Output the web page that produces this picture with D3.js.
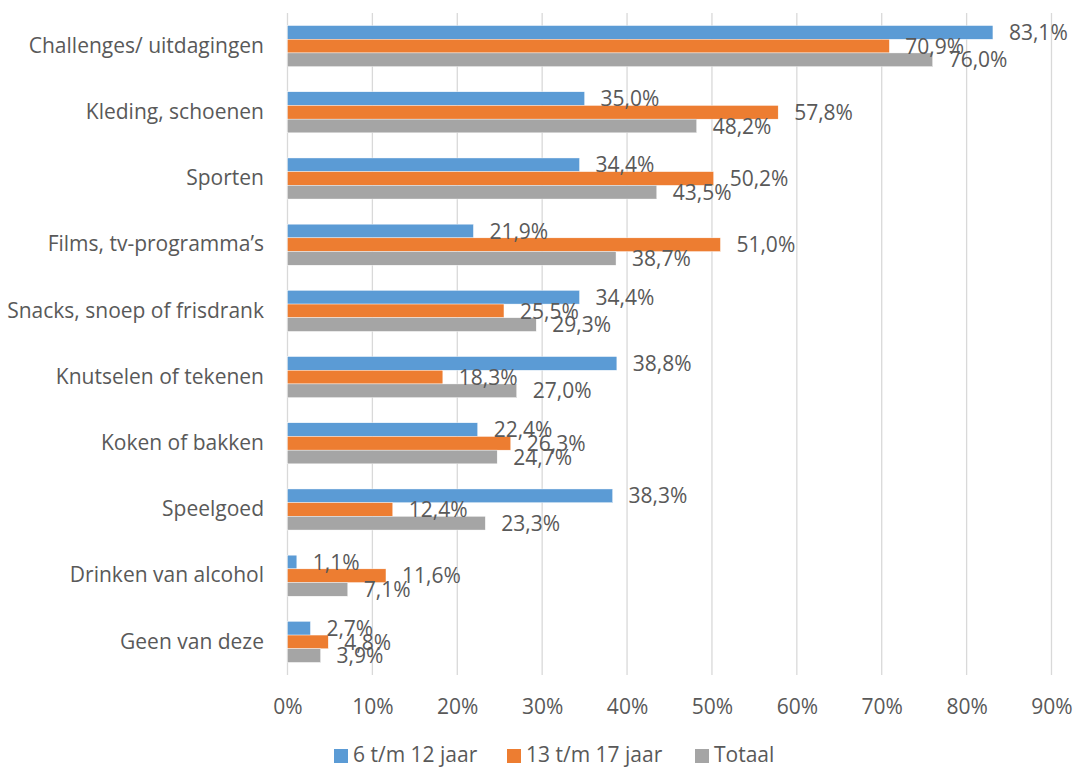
<!DOCTYPE html>
<html>
<head>
<meta charset="utf-8">
<script src="https://cdn.jsdelivr.net/npm/d3@7"></script>
<style>
  body { margin: 0; background: #fff; }
  text { font-family: "Open Sans", sans-serif; fill: #595959; }
</style>
</head>
<body>
<svg id="chart" width="1080" height="769"></svg>
<script>
var categories = ["Challenges/ uitdagingen", "Kleding, schoenen", "Sporten", "Films, tv-programma\u2019s",
  "Snacks, snoep of frisdrank", "Knutselen of tekenen", "Koken of bakken", "Speelgoed",
  "Drinken van alcohol", "Geen van deze"]
var seriesNames = ["6 t/m 12 jaar", "13 t/m 17 jaar", "Totaal"]
var kids = [83.1, 35.0, 34.4, 21.9, 34.4, 38.8, 22.4, 38.3, 1.1, 2.7]
var teens = [70.9, 57.8, 50.2, 51.0, 25.5, 18.3, 26.3, 12.4, 11.6, 4.8]
var totaal = [76.0, 48.2, 43.5, 38.7, 29.3, 27.0, 24.7, 23.3, 7.1, 3.9]
var ticks = [0, 10, 20, 30, 40, 50, 60, 70, 80, 90]
var colors = ["#5B9BD5", "#ED7D31", "#A5A5A5"]

var dd = { width: 1080, height: 769, margin: { top: 13, bottom: 94, left: 287.5, right: 28.5 } }
var fontSize = "21px"

var svg = d3.select("#chart")

var xScale = d3.scaleLinear().domain([0, 90]).range([dd.margin.left, dd.width - dd.margin.right])
var yScale = d3.scaleBand().domain(categories)
  .range([dd.margin.top, dd.height - dd.margin.bottom])
  .paddingInner(0.38).paddingOuter(0.19)
var ySub = d3.scaleBand().domain(seriesNames).range([0, yScale.bandwidth()])

var rows = categories.map(function(c, i) {
  return { cat: c, vals: [kids[i], teens[i], totaal[i]] }
})

// gridlines
svg.append("g").selectAll("line")
  .data(ticks)
  .enter().append("line")
  .attr("x1", function(d) { return xScale(d) }).attr("x2", function(d) { return xScale(d) })
  .attr("y1", dd.margin.top).attr("y2", dd.height - dd.margin.bottom)
  .attr("stroke", "#d9d9d9").attr("stroke-width", 1.3)

// x tick labels
var xAxis = d3.axisBottom(xScale).tickValues(ticks).tickSize(0).tickPadding(0)
  .tickFormat(function(d) { return d + "%" })
svg.append("g")
  .attr("transform", "translate(0," + 714 + ")")
  .call(xAxis)
  .call(function(g) { g.select(".domain").remove() })
  .selectAll("text")
  .attr("dy", 0)
  .style("font-size", fontSize)
  .style("fill", "#595959")
  .style("font-family", "'Open Sans', sans-serif")

// category labels
svg.append("g").selectAll("text")
  .data(categories)
  .enter().append("text")
  .attr("x", 264)
  .attr("y", function(d) { return yScale(d) + yScale.bandwidth() / 2 + 1 })
  .attr("text-anchor", "end")
  .attr("dominant-baseline", "middle")
  .style("font-size", fontSize)
  .text(function(d) { return d })

var groups = svg.append("g").selectAll("g")
  .data(rows)
  .enter().append("g")
  .attr("transform", function(d) { return "translate(0," + yScale(d.cat) + ")" })

groups.selectAll("rect")
  .data(function(d) { return d.vals })
  .enter().append("rect")
  .attr("x", xScale(0))
  .attr("y", function(d, i) { return ySub(seriesNames[i]) })
  .attr("width", function(d) { return xScale(d) - xScale(0) })
  .attr("height", ySub.bandwidth())
  .attr("fill", function(d, i) { return colors[i] })
  .attr("stroke", "#fff").attr("stroke-width", 0.4)

// data labels, placed like Excel's outside-end labels (they overlap there too)
groups.selectAll("text")
  .data(function(d) { return d.vals })
  .enter().append("text")
  .attr("x", function(d) { return xScale(d) + 16 })
  .attr("y", function(d, i) { return ySub(seriesNames[i]) + ySub.bandwidth() / 2 + 2 })
  .attr("dominant-baseline", "middle")
  .style("font-size", fontSize)
  .text(function(d) { return d.toFixed(1).replace(".", ",") + "%" })

// legend
var legX = [334, 507, 695]
var legend = svg.append("g").selectAll("g")
  .data(seriesNames)
  .enter().append("g")
  .attr("transform", function(d, i) { return "translate(" + legX[i] + ",749)" })
legend.append("rect")
  .attr("width", 14).attr("height", 14)
  .attr("fill", function(d, i) { return colors[i] })
legend.append("text")
  .attr("x", 19).attr("y", 7)
  .attr("dominant-baseline", "middle")
  .style("font-size", fontSize)
  .text(function(d) { return d })
</script>
</body>
</html>
